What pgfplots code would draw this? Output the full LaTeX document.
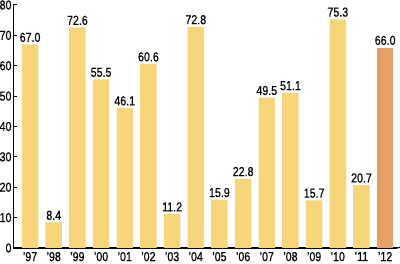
\documentclass[border=0pt]{standalone}
\usepackage{pgfplots}
\pgfplotsset{compat=1.18}
\usepackage{fontspec}
\setmainfont[FakeStretch=0.82,FakeBold=0.6]{Liberation Sans}
\definecolor{baryel}{HTML}{F7D67B}
\definecolor{barora}{HTML}{E4A065}
\begin{document}
\begin{tikzpicture}
\begin{axis}[
  at={(0,0)}, anchor=south west,
  scale only axis, width=383.5pt, height=243pt,
  xmin=-0.70, xmax=15.5, ymin=0, ymax=80,
  axis x line*=bottom, axis y line*=left,
  x axis line style={line width=1.4pt,-},
  y axis line style={line width=1.8pt,-},
  ytick={0,10,...,80},
  xtick={0,...,15},
  xticklabels={’97,’98,’99,’00,’01,’02,’03,’04,’05,’06,’07,’08,’09,’10,’11,’12},
  major x tick style={draw=none},
  major y tick style={black, line width=1pt},
  tick align=inside, major tick length=4pt,
  tick label style={font=\fontsize{13}{13}\selectfont, black},
  /pgf/number format/assume math mode=true,
  yticklabel style={xshift=1.5pt},
  xticklabel style={yshift=3.5pt},
  ybar, bar width=16.5pt, bar shift=0pt,
  nodes near coords,
  nodes near coords style={font=\fontsize{13}{13}\selectfont, black, /pgf/number format/fixed, /pgf/number format/precision=1, /pgf/number format/fixed zerofill, /pgf/number format/assume math mode=true, yshift=-1pt},
  clip=false,
]
\addplot[fill=baryel, draw=none] coordinates {
(0,67.0) (1,8.4) (2,72.6) (3,55.5) (4,46.1) (5,60.6) (6,11.2) (7,72.8)
(8,15.9) (9,22.8) (10,49.5) (11,51.1) (12,15.7) (13,75.3) (14,20.7)};
\addplot[fill=barora, draw=none] coordinates {(15,66.0)};
\draw[line width=1.2pt] (rel axis cs:1,0) -- ++(0,4pt);
\end{axis}
\pgfresetboundingbox
\useasboundingbox (-13.5pt,-16pt) rectangle (386.5pt,248pt);
\end{tikzpicture}
\end{document}
